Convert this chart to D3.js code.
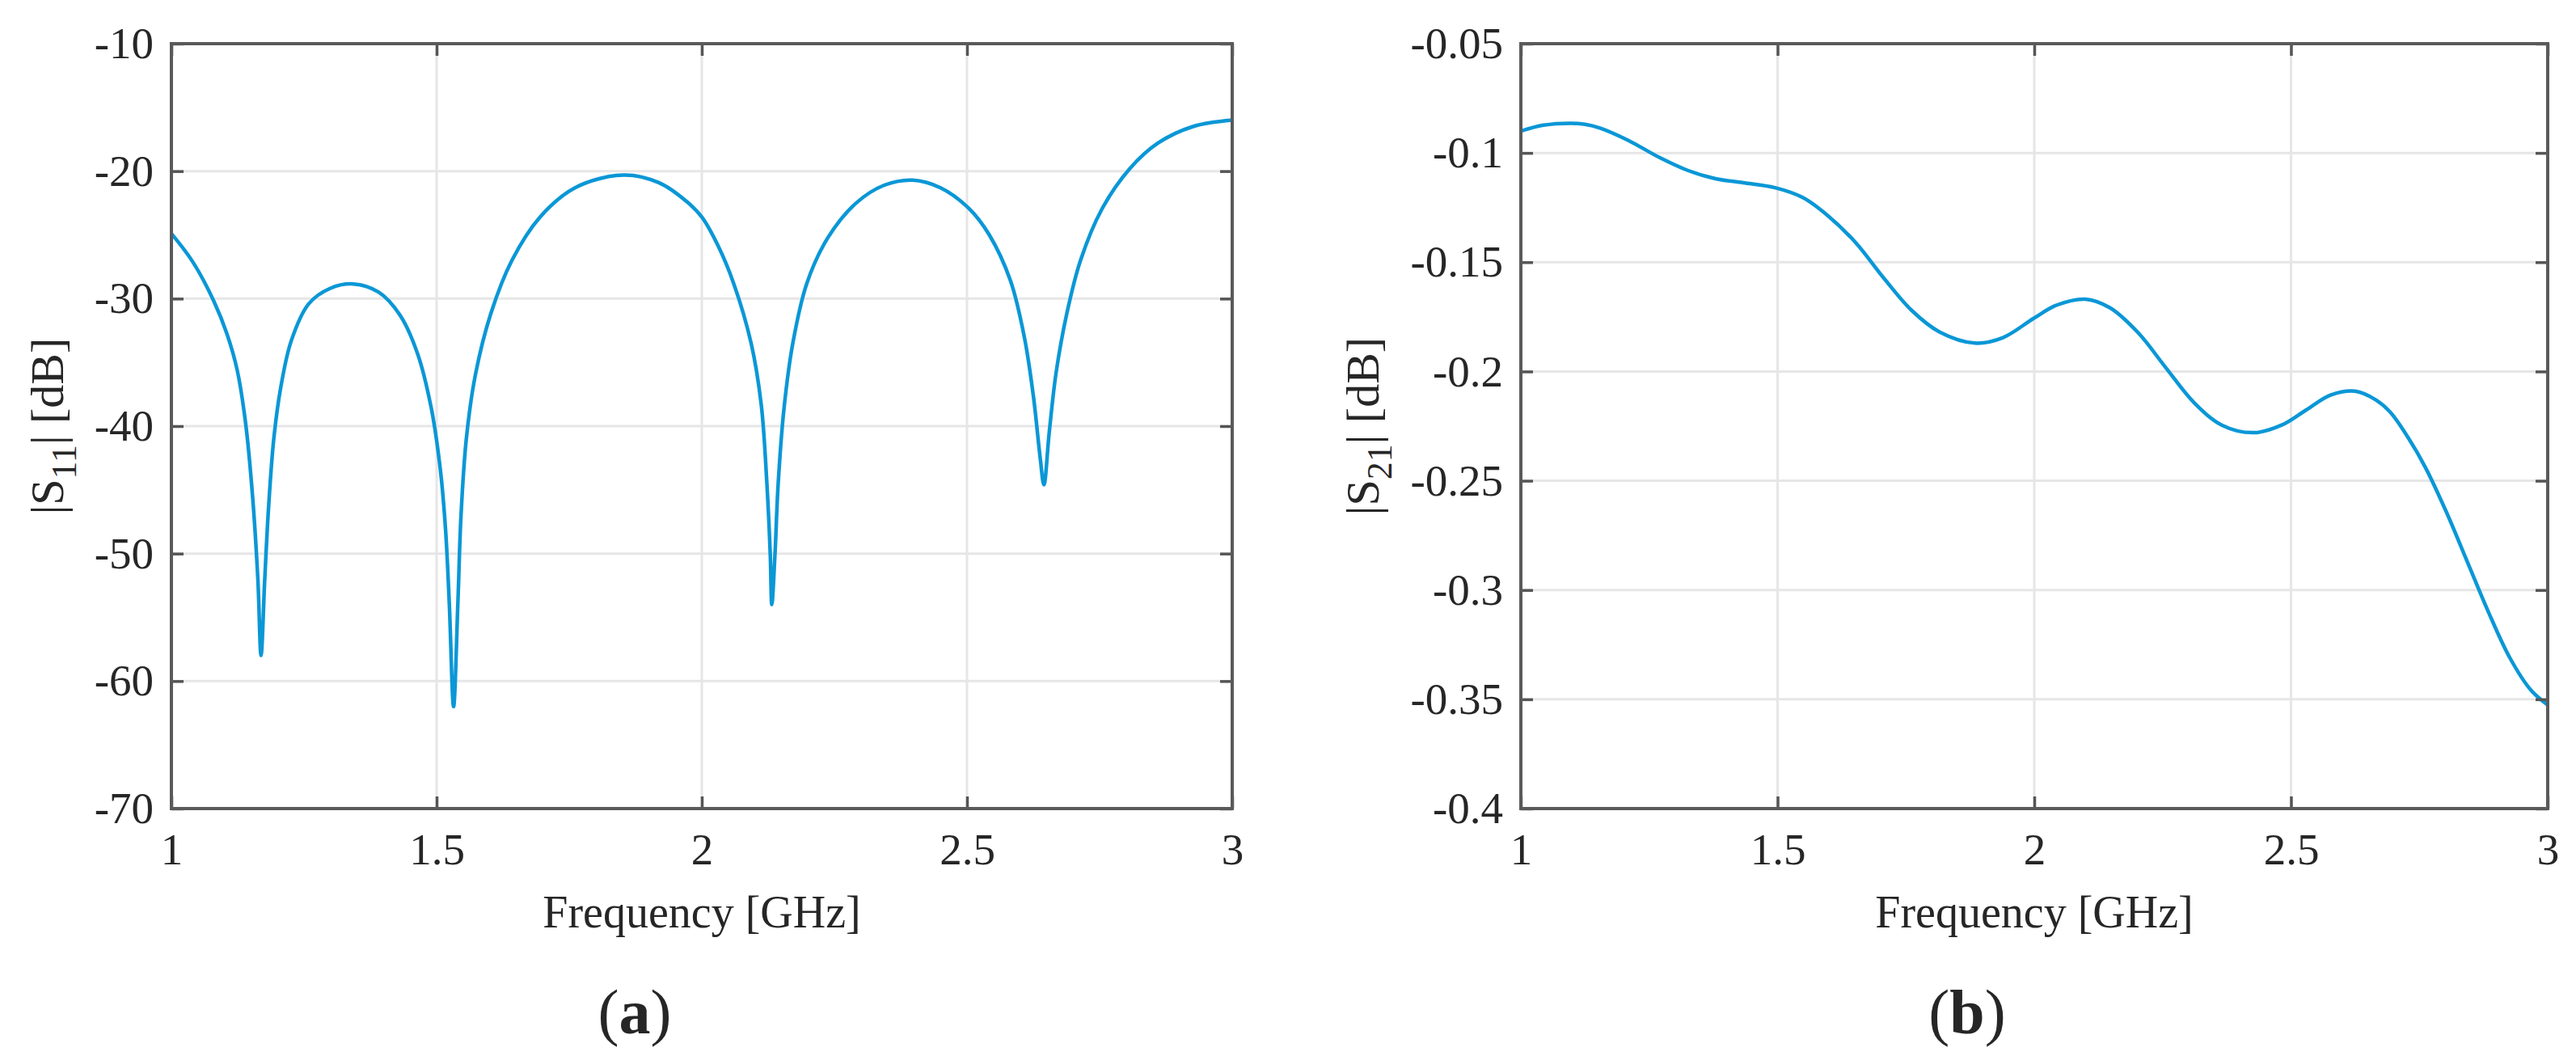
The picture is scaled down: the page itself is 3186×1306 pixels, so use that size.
<!DOCTYPE html>
<html>
<head>
<meta charset="utf-8">
<script src="https://cdn.jsdelivr.net/npm/d3@7"></script>
<style>
  body { margin: 0; background: #fff; }
  text { font-family: "Liberation Serif", "DejaVu Serif", serif; fill: #262626; }
</style>
</head>
<body>
<div id="chart"></div>
<script>
////// S-parameter figure: (a) |S11| and (b) |S21|
var width = 3186,
    height = 1306;

// frequency axis ticks (GHz)
var freqTicks = [1, 1.5, 2, 2.5, 3];

// |S11|
var s11Freq = [1.0, 1.04, 1.08, 1.105, 1.124, 1.140, 1.153, 1.163, 1.169,
    1.176, 1.183, 1.193, 1.206, 1.226, 1.259, 1.299, 1.343, 1.391, 1.431,
    1.464, 1.490, 1.507, 1.517, 1.524, 1.532, 1.540, 1.546, 1.556, 1.573,
    1.602, 1.642, 1.695, 1.761, 1.853, 1.919, 1.972, 2.0, 2.030, 2.060,
    2.093, 2.112, 2.122, 2.129, 2.132, 2.138, 2.144, 2.155, 2.172, 2.198,
    2.238, 2.291, 2.344, 2.397, 2.450, 2.503, 2.542, 2.582, 2.608, 2.625,
    2.638, 2.645, 2.655, 2.668, 2.688, 2.714, 2.754, 2.807, 2.860, 2.926, 3.0];
var s11Db = [-24.9, -27.1, -30.2, -32.8, -35.6, -39.8, -45.5, -52.0, -58.0,
    -52.0, -46.5, -41.0, -37.0, -33.3, -30.4, -29.2, -28.85, -29.5, -31.3,
    -34.3, -38.6, -43.4, -48.2, -54.0, -62.0, -54.0, -47.0, -41.0, -36.0,
    -31.2, -27.0, -23.6, -21.3, -20.3, -20.9, -22.4, -23.6, -25.8, -28.8,
    -33.5, -38.3, -44.0, -50.0, -54.0, -50.0, -44.5, -38.6, -33.4, -28.8,
    -25.2, -22.5, -21.1, -20.7, -21.3, -22.9, -25.0, -28.6, -33.0, -37.6,
    -42.5, -44.6, -40.5, -35.8, -31.2, -27.0, -23.0, -19.8, -17.8, -16.5, -16.0];
var s11Ticks = [-70, -60, -50, -40, -30, -20, -10];

// |S21|
var s21Freq = [1.0, 1.044, 1.096, 1.125, 1.154, 1.208, 1.270, 1.324, 1.379,
    1.433, 1.495, 1.549, 1.597, 1.652, 1.706, 1.761, 1.816, 1.884, 1.939,
    2.0, 2.044, 2.099, 2.147, 2.202, 2.256, 2.311, 2.365, 2.427, 2.482,
    2.529, 2.577, 2.625, 2.666, 2.694, 2.728, 2.762, 2.803, 2.844, 2.885,
    2.926, 2.967, 3.0];
var s21Db = [-0.090, -0.0873, -0.0864, -0.0869, -0.0886, -0.0941, -0.1021,
    -0.1079, -0.1118, -0.1136, -0.1159, -0.1204, -0.1285, -0.141, -0.157,
    -0.172, -0.182, -0.187, -0.1845, -0.1755, -0.1696, -0.1669, -0.1708,
    -0.1822, -0.1982, -0.2142, -0.2245, -0.228, -0.2245, -0.2177, -0.2108,
    -0.209, -0.2131, -0.2188, -0.2302, -0.244, -0.2645, -0.2874, -0.3103,
    -0.3309, -0.3457, -0.3526];
var s21Ticks = [-0.4, -0.35, -0.3, -0.25, -0.2, -0.15, -0.1, -0.05];

var svg = d3.select("#chart")
    .append("svg")
    .attr("width", width)
    .attr("height", height);

// plain hyphen minus, like the original figure
var hyphen = (d) => String(+d.toFixed(2)).replace("\u2212", "-");

// draws one MATLAB-style panel
function panel (opts) {
    var x = d3.scaleLinear().domain([1, 3]).range([opts.left, opts.right]);
    var y = d3.scaleLinear().domain(opts.domain).range([1000, 54]);
    var top = 54, bottom = 1000;

    var g = svg.append("g");

    // grid
    g.selectAll(".gx").data(freqTicks.slice(1, -1)).enter().append("line")
        .attr("x1", (d) => x(d)).attr("x2", (d) => x(d))
        .attr("y1", top).attr("y2", bottom)
        .attr("stroke", "#e6e6e6").attr("stroke-width", 3);
    g.selectAll(".gy").data(opts.ticks.slice(1, -1)).enter().append("line")
        .attr("x1", opts.left).attr("x2", opts.right)
        .attr("y1", (d) => y(d)).attr("y2", (d) => y(d))
        .attr("stroke", "#e6e6e6").attr("stroke-width", 3);

    // curve
    var line = d3.line()
        .x((d) => x(d[0]))
        .y((d) => y(d[1]))
        .curve(d3.curveCatmullRom.alpha(0.5));
    g.append("path")
        .datum(d3.zip(opts.freq, opts.vals))
        .attr("d", line)
        .attr("fill", "none")
        .attr("stroke", "#0a97d6")
        .attr("stroke-width", 4.5)
        .attr("stroke-linejoin", "round");

    // axes, ticks inward on all four sides
    g.append("g").attr("transform", `translate(0,${bottom})`)
        .call(d3.axisBottom(x).tickValues(freqTicks).tickSizeInner(-15).tickSizeOuter(0).tickPadding(30).tickFormat(hyphen));
    g.append("g").attr("transform", `translate(0,${top})`)
        .call(d3.axisTop(x).tickValues(freqTicks).tickSizeInner(-15).tickSizeOuter(0).tickFormat(""));
    g.append("g").attr("transform", `translate(${opts.left},0)`)
        .call(d3.axisLeft(y).tickValues(opts.ticks).tickSizeInner(-15).tickSizeOuter(0).tickPadding(22).tickFormat(hyphen));
    g.append("g").attr("transform", `translate(${opts.right},0)`)
        .call(d3.axisRight(y).tickValues(opts.ticks).tickSizeInner(-15).tickSizeOuter(0).tickFormat(""));

    g.selectAll(".domain").remove();
    g.selectAll(".tick line").attr("stroke", "#555").attr("stroke-width", 3.5);
    g.selectAll(".tick text")
        .attr("font-size", 55)
        .attr("font-family", "Liberation Serif")
        .attr("fill", "#262626");

    // frame
    g.append("rect")
        .attr("x", opts.left).attr("y", top)
        .attr("width", opts.right - opts.left).attr("height", bottom - top)
        .attr("fill", "none").attr("stroke", "#5a5a5a").attr("stroke-width", 4);

    // x label
    g.append("text")
        .attr("x", (opts.left + opts.right) / 2)
        .attr("y", 1147)
        .attr("text-anchor", "middle")
        .attr("font-size", 56)
        .text("Frequency [GHz]");

    // y label with subscript
    var yl = g.append("text")
        .attr("transform", `translate(${opts.ylabelX},527) rotate(-90)`)
        .attr("text-anchor", "middle")
        .attr("font-size", 58);
    yl.append("tspan").text("|S");
    yl.append("tspan").attr("font-size", 44).attr("dy", 16).text(opts.sub);
    yl.append("tspan").attr("dy", -16).text("| [dB]");

    // caption
    var cap = svg.append("text")
        .attr("x", opts.capX)
        .attr("y", 1278)
        .attr("text-anchor", "middle")
        .attr("font-size", 78)
        .attr("fill", "#000");
    cap.append("tspan").text("(");
    cap.append("tspan").attr("font-weight", "bold").text(opts.letter);
    cap.append("tspan").text(")");
}

panel({
    left: 212, right: 1524,
    domain: [-70, -10], ticks: s11Ticks,
    freq: s11Freq, vals: s11Db,
    ylabelX: 78, sub: "11",
    capX: 785, letter: "a"
});

panel({
    left: 1881, right: 3151,
    domain: [-0.4, -0.05], ticks: s21Ticks,
    freq: s21Freq, vals: s21Db,
    ylabelX: 1705, sub: "21",
    capX: 2433, letter: "b"
});
</script>
</body>
</html>
